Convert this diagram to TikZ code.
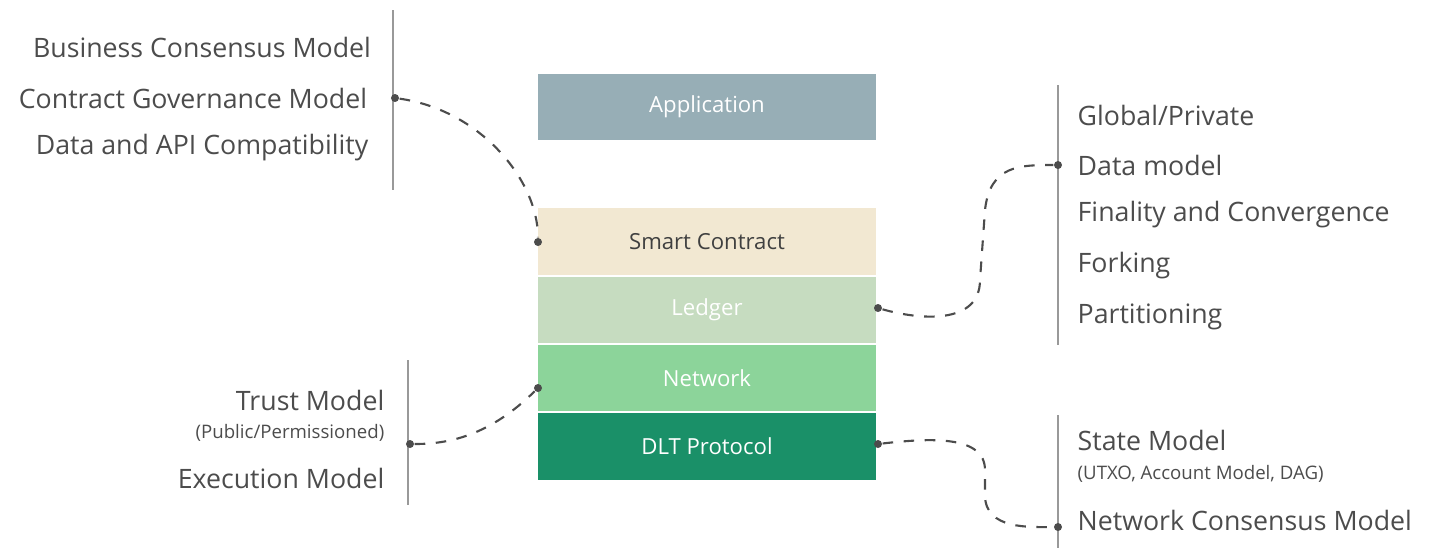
\documentclass[tikz,border=0pt]{standalone}
\usepackage{fontspec}
\setmainfont{Open Sans}
\begin{document}
\begin{tikzpicture}[x=0.01cm,y=-0.01cm,
 box/.style={minimum width=3.38cm,minimum height=0.66cm,inner sep=0,font=\fontsize{6.3}{7}\selectfont},
 lab/.style={inner sep=0,text=black!70,font=\fontsize{7.6}{9}\selectfont},
 sm/.style={inner sep=0,text=black!70,font=\fontsize{5.3}{6}\selectfont},
 vl/.style={black!40,line width=0.4pt},
 con/.style={dashed,black!70,line width=0.6pt},
 dot/.style={circle,fill=black!70,inner sep=0,minimum size=0.08cm}]
\path[use as bounding box] (0,0) rectangle (1429,556);
\node[box,fill={rgb,255:red,151;green,174;blue,182},text=white] (app) at (707,107) {Application};
\node[box,fill={rgb,255:red,242;green,232;blue,210},text=black!75] (sc) at (707,241.5) {Smart Contract};
\node[box,fill={rgb,255:red,198;green,220;blue,192},text=white] (led) at (707,310) {Ledger};
\node[box,fill={rgb,255:red,140;green,212;blue,154},text=white] (net) at (707,378) {Network};
\node[box,fill={rgb,255:red,26;green,144;blue,104},text=white] (dlt) at (707,446.5) {DLT Protocol};
% left top
\draw[vl] (393,10) -- (393,190);
\node[lab] (l1) at (202,47) {Business Consensus Model};
\node[lab] (l2) at (193,98) {Contract Governance Model};
\node[lab] (l3) at (202,148) {Data and API Compatibility};
\node[dot] (d1) at (395,98) {};
\node[dot] (d2) at (538,242) {};
\draw[con] (d1) .. controls (480,110) and (538,180) .. (d2);
% right top
\draw[vl] (1058,85) -- (1058,345);
\node[lab,anchor=west] (r1) at (1077,115) {Global/Private};
\node[lab,anchor=west] (r2) at (1077,165) {Data model};
\node[lab,anchor=west] (r3) at (1077,215) {Finality and Convergence};
\node[lab,anchor=west] (r4) at (1077,266) {Forking};
\node[lab,anchor=west] (r5) at (1077,317) {Partitioning};
\node[dot] (d3) at (878,308) {};
\node[dot] (d4) at (1058,165) {};
\draw[con] (d3) .. controls (920,320) and (980,325) .. (980,280) -- (985,210) .. controls (990,165) and (1020,165) .. (d4);
% left bottom
\draw[vl] (408,360) -- (408,505);
\node[lab,anchor=east] (b1) at (385,400) {Trust Model};
\node[sm,anchor=east] (b2) at (385,433) {(Public/Permissioned)};
\node[lab,anchor=east] (b3) at (385,478) {Execution Model};
\node[dot] (d5) at (410,444) {};
\node[dot] (d6) at (538,388) {};
\draw[con] (d5) .. controls (450,444) and (490,435) .. (d6);
% right bottom
\draw[vl] (1058,415) -- (1058,548);
\node[lab,anchor=west] (c1) at (1077,440) {State Model};
\node[sm,anchor=west] (c2) at (1077,474) {(UTXO, Account Model, DAG)};
\node[lab,anchor=west] (c3) at (1077,520) {Network Consensus Model};
\node[dot] (d7) at (878,444) {};
\node[dot] (d8) at (1058,527) {};
\draw[con] (d7) .. controls (930,438) and (985,435) .. (985,470) -- (985,495) .. controls (985,530) and (1030,527) .. (d8);
\end{tikzpicture}
\end{document}
